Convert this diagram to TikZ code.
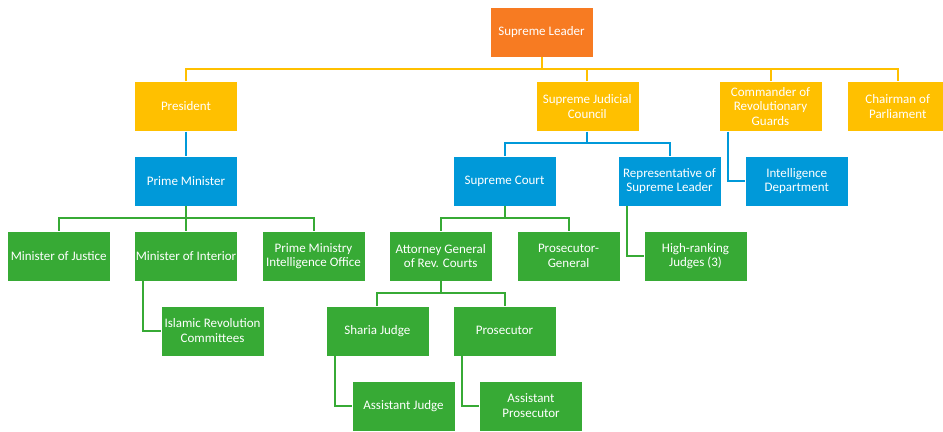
\documentclass[tikz,border=0pt]{standalone}
\usepackage{fontspec}
\setmainfont{Carlito}
\definecolor{cOrange}{HTML}{F77B22}
\definecolor{cYellow}{HTML}{FFC000}
\definecolor{cBlue}{HTML}{0099D9}
\definecolor{cGreen}{HTML}{37AA35}
\begin{document}
\begin{tikzpicture}[x=1bp,y=-1bp,
  box/.style={draw=white, line width=0.4bp, minimum width=103bp, minimum height=50bp, inner sep=1bp,
    text=white, align=center, font=\fontsize{13bp}{14.6bp}\selectfont},
  ob/.style={box, fill=cOrange},
  yb/.style={box, fill=cYellow},
  bb/.style={box, fill=cBlue},
  gb/.style={box, fill=cGreen},
  yl/.style={draw=cYellow, line width=2bp},
  bl/.style={draw=cBlue, line width=2bp},
  gl/.style={draw=cGreen, line width=2bp}]
\useasboundingbox (0,0) rectangle (943,431);
% nodes
\node[ob] (sl) at (541.5,32) {Supreme Leader};
\node[yb] (pres) at (186,106.5) {President};
\node[yb] (sjc) at (587.2,106.5) {Supreme Judicial\\Council};
\node[yb] (cmd) at (770.5,106.5) {Commander of\\Revolutionary\\Guards};
\node[yb, minimum width=102bp] (chair) at (897.7,106.5) {Chairman of\\Parliament};
\node[bb] (pm) at (186,181) {Prime Minister};
\node[bb] (sc) at (504.5,181) {Supreme Court};
\node[bb] (rep) at (669.5,181) {Representative of\\Supreme Leader};
\node[bb] (intel) at (796.7,181) {Intelligence\\Department};
\node[gb] (mj) at (58.7,256) {Minister of Justice};
\node[gb] (mi) at (186,256) {Minister of Interior};
\node[gb] (pmio) at (313.5,256) {Prime Ministry\\Intelligence Office};
\node[gb] (ag) at (440.7,256) {Attorney General\\of Rev. Courts};
\node[gb] (pg) at (568.5,256) {Prosecutor-\\General};
\node[gb] (hr) at (695.5,256) {High-ranking\\Judges (3)};
\node[gb] (irc) at (212.5,330.7) {Islamic Revolution\\Committees};
\node[gb] (sj) at (377.3,330.7) {Sharia Judge};
\node[gb] (pros) at (504.5,330.7) {Prosecutor};
\node[gb] (aj) at (403.5,405.7) {Assistant Judge};
\node[gb] (ap) at (531,405.7) {Assistant\\Prosecutor};
% buses
\coordinate (b1) at (0,69);
\coordinate (b2) at (0,143.3);
\coordinate (b3) at (0,218.3);
\coordinate (b4) at (0,293.3);
% yellow
\draw[yl] (sl.south) -- (sl.south |- b1);
\draw[yl] (pres.north) -- (pres.north |- b1) -- (chair.north |- b1) -- (chair.north);
\draw[yl] (sjc.north) -- (sjc.north |- b1);
\draw[yl] (cmd.north) -- (cmd.north |- b1);
% blue
\draw[bl] (pres.south) -- (pm.north);
\draw[bl] (sjc.south) -- (sjc.south |- b2);
\draw[bl] (sc.north) -- (sc.north |- b2) -- (rep.north |- b2) -- (rep.north);
\draw[bl] ([xshift=9bp]cmd.south west) |- (intel.west);
% green
\draw[gl] (pm.south) -- (pm.south |- b3);
\draw[gl] (mj.north) -- (mj.north |- b3) -- (pmio.north |- b3) -- (pmio.north);
\draw[gl] (mi.north) -- (mi.north |- b3);
\draw[gl] ([xshift=9bp]mi.south west) |- (irc.west);
\draw[gl] (sc.south) -- (sc.south |- b3);
\draw[gl] (ag.north) -- (ag.north |- b3) -- (pg.north |- b3) -- (pg.north);
\draw[gl] ([xshift=9bp]rep.south west) |- (hr.west);
\draw[gl] (ag.south) -- (ag.south |- b4);
\draw[gl] (sj.north) -- (sj.north |- b4) -- (pros.north |- b4) -- (pros.north);
\draw[gl] ([xshift=9bp]sj.south west) |- (aj.west);
\draw[gl] ([xshift=9bp]pros.south west) |- (ap.west);
\end{tikzpicture}
\end{document}
